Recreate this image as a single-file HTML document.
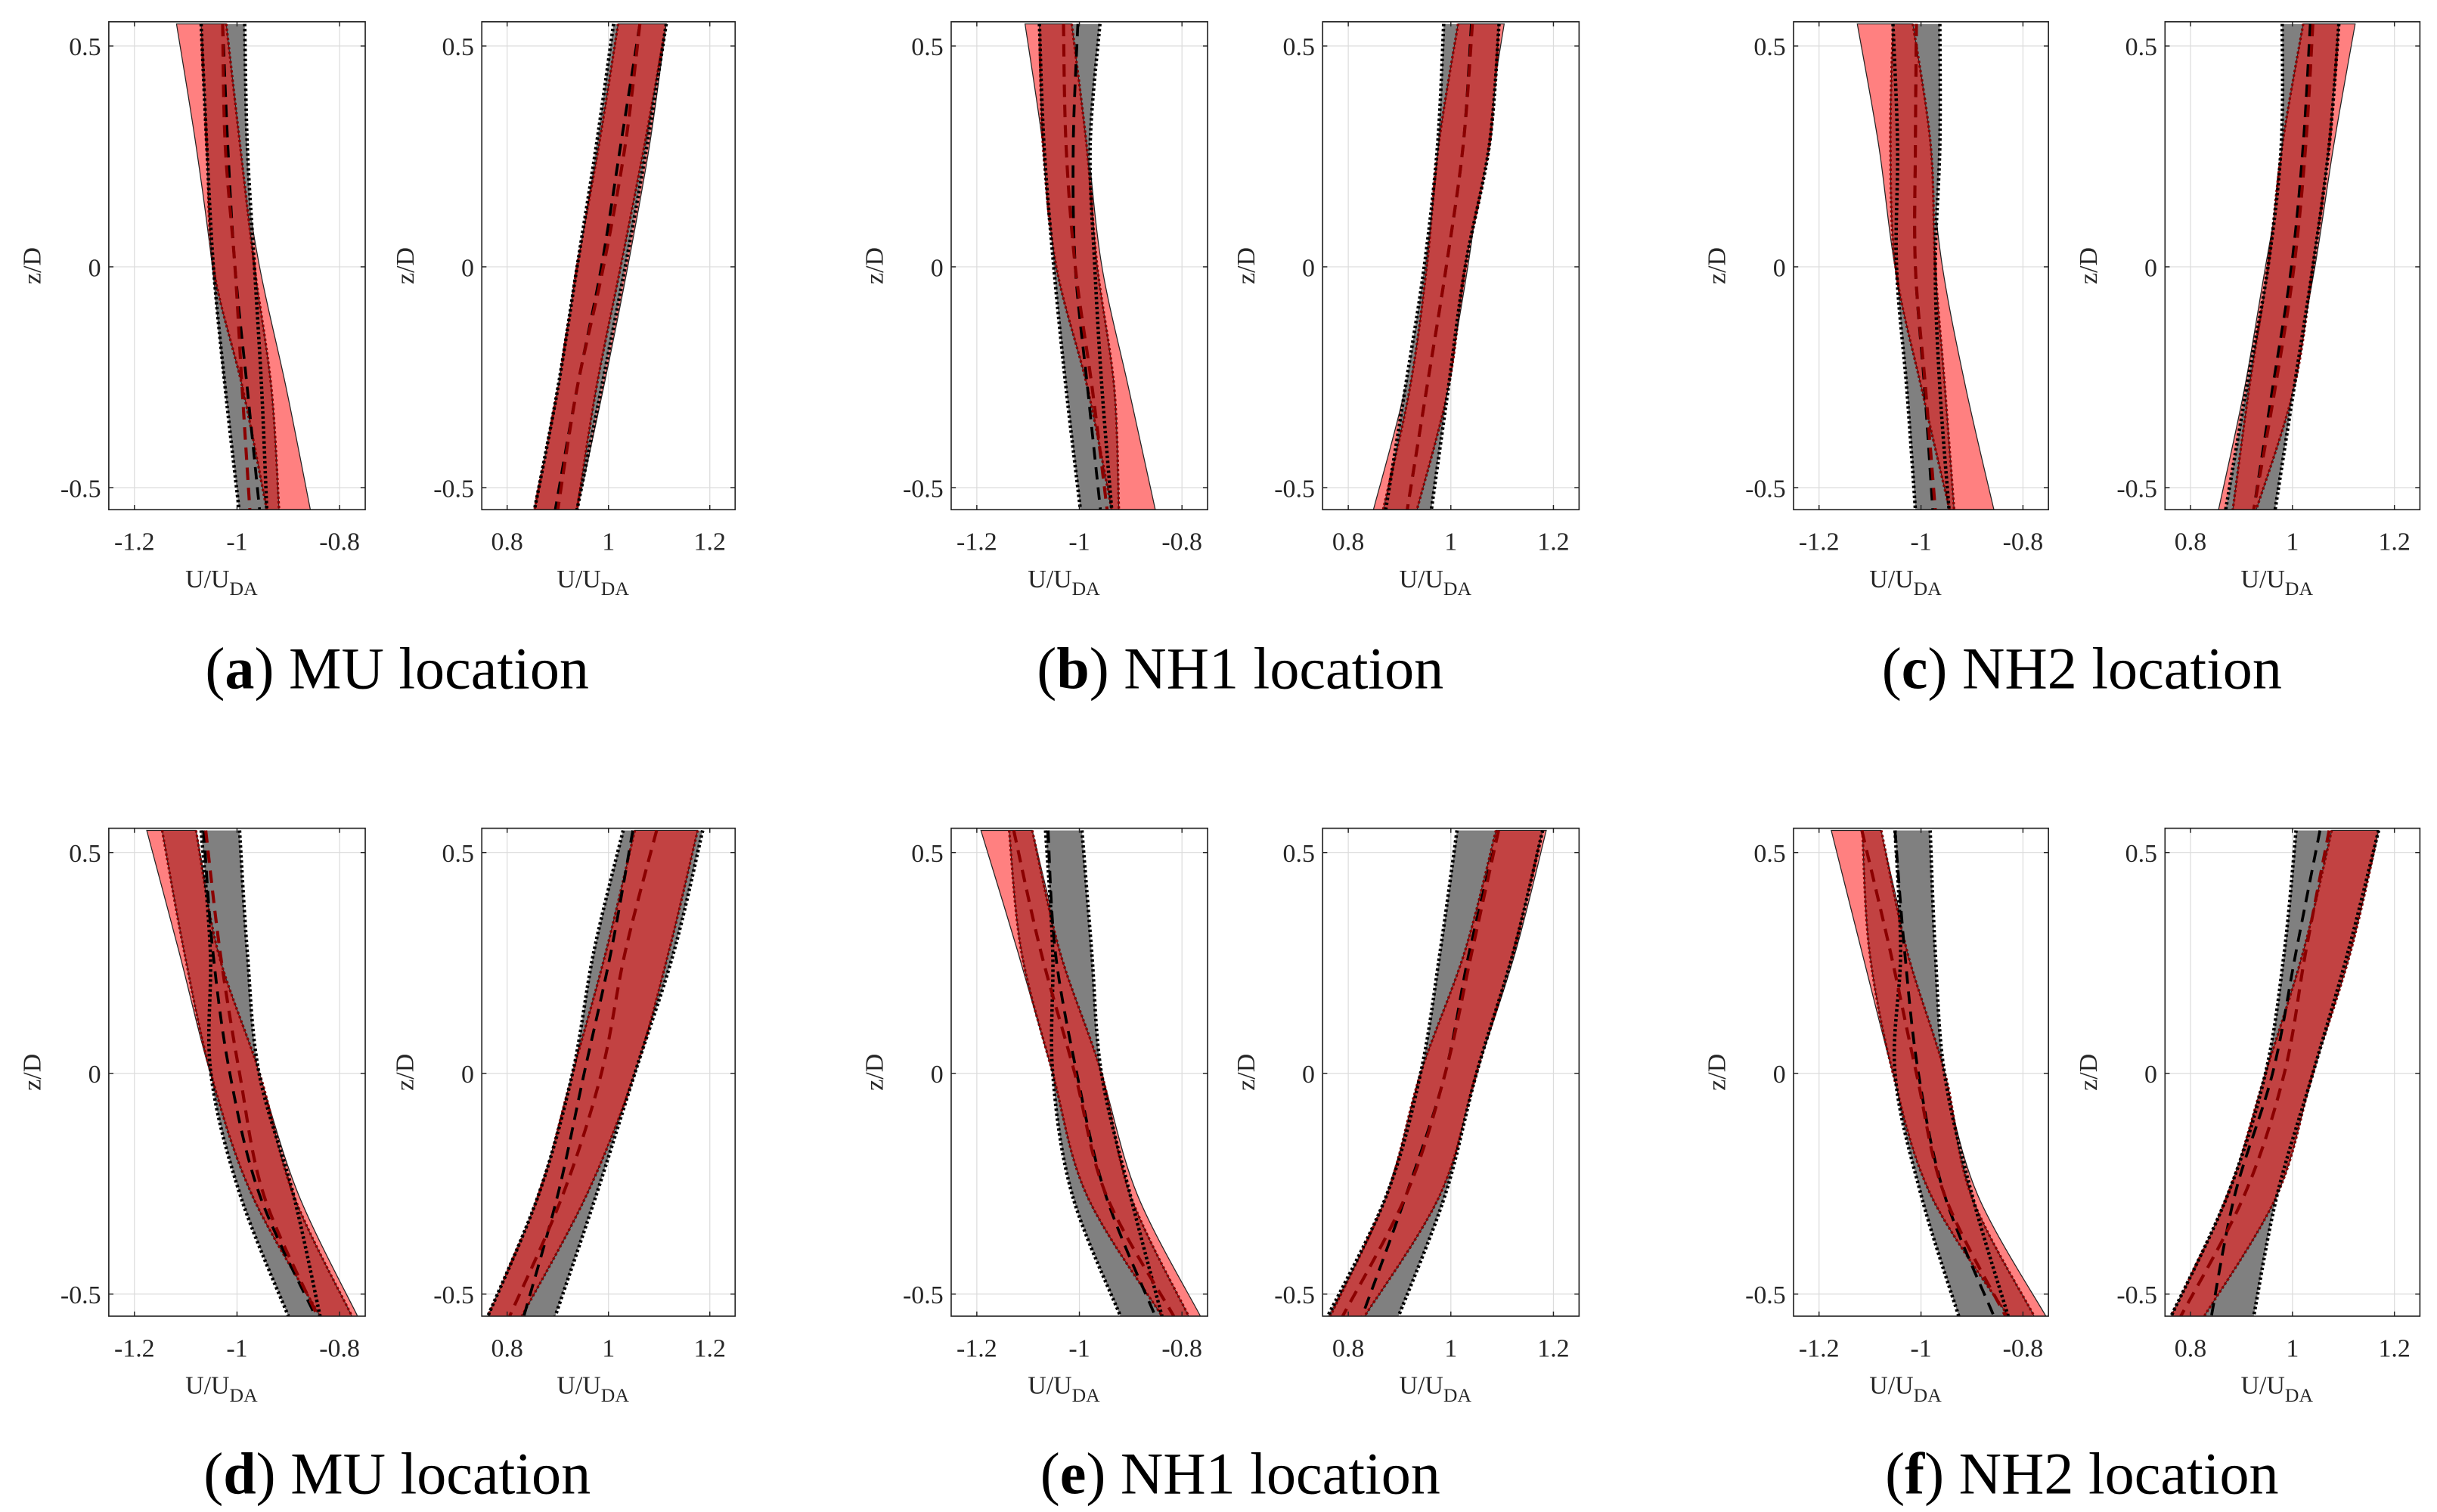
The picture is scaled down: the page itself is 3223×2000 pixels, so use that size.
<!DOCTYPE html>
<html><head><meta charset="utf-8"><style>
html,body{margin:0;padding:0;background:#fff;}
svg{display:block;}
</style></head><body>
<svg id="fig" width="3223" height="2000" viewBox="0 0 1568 973.02" preserveAspectRatio="none" xmlns="http://www.w3.org/2000/svg" font-family="'Liberation Serif', serif"></svg>
<script>
// z/D sample levels (top to bottom)
const zLevels = [0.55, 0.275, 0, -0.275, -0.55];
const xTicksNeg = [-1.2, -1, -0.8];
const xTickLabelsNeg = ['-1.2', '-1', '-0.8'];
const xTicksPos = [0.8, 1, 1.2];
const xTickLabelsPos = ['0.8', '1', '1.2'];
const yTicks = [0.5, 0, -0.5];
const yTickLabels = ['0.5', '0', '-0.5'];
const captionLetters = ['a', 'b', 'c', 'd', 'e', 'f'];
const captionNames = ['MU location', 'NH1 location', 'NH2 location', 'MU location', 'NH1 location', 'NH2 location'];

// (a) MU
const aL_grayLo = [-1.07, -1.059, -1.046, -1.023, -0.996];
const aL_grayHi = [-0.985, -0.98, -0.966, -0.952, -0.942];
const aL_grayMean = [-1.028, -1.018, -1.004, -0.98, -0.956];
const aL_redLo = [-1.118, -1.08, -1.048, -1.023, -0.99];
const aL_redHi = [-1.021, -0.994, -0.956, -0.904, -0.857];
const aL_darkLo = [-1.07, -1.059, -1.046, -0.989, -0.942];
const aL_darkHi = [-1.021, -0.994, -0.966, -0.933, -0.918];
const aL_redMean = [-1.028, -1.023, -1.004, -0.99, -0.975];
const aR_grayLo = [1.01, 0.976, 0.938, 0.9, 0.854];
const aR_grayHi = [1.114, 1.076, 1.033, 0.986, 0.938];
const aR_grayMean = [1.062, 1.024, 0.986, 0.938, 0.895];
const aR_redLo = [1.019, 0.981, 0.938, 0.9, 0.854];
const aR_redHi = [1.114, 1.081, 1.038, 0.99, 0.938];
const aR_darkLo = [1.019, 0.981, 0.938, 0.9, 0.854];
const aR_darkHi = [1.114, 1.071, 1.024, 0.976, 0.938];
const aR_redMean = [1.062, 1.033, 0.99, 0.938, 0.9];
// (b) NH1
const bL_grayLo = [-1.078, -1.069, -1.05, -1.026, -0.998];
const bL_grayHi = [-0.96, -0.979, -0.97, -0.956, -0.937];
const bL_grayMean = [-1.003, -1.012, -1.008, -0.984, -0.959];
const bL_redLo = [-1.106, -1.071, -1.045, -0.998, -0.951];
const bL_redHi = [-1.015, -0.984, -0.956, -0.904, -0.852];
const bL_darkLo = [-1.078, -1.071, -1.045, -0.984, -0.937];
const bL_darkHi = [-1.015, -0.986, -0.965, -0.932, -0.923];
const bL_redMean = [-1.031, -1.026, -1.008, -0.975, -0.946];
const bR_grayLo = [0.986, 0.974, 0.948, 0.911, 0.873];
const bR_grayHi = [1.094, 1.075, 1.028, 0.995, 0.962];
const bR_grayMean = [1.04, 1.024, 0.991, 0.953, 0.915];
const bR_redLo = [1.014, 0.976, 0.953, 0.911, 0.849];
const bR_redHi = [1.104, 1.066, 1.033, 0.991, 0.934];
const bR_darkLo = [1.014, 0.976, 0.953, 0.92, 0.868];
const bR_darkHi = [1.094, 1.075, 1.028, 0.995, 0.934];
const bR_redMean = [1.042, 1.024, 0.991, 0.953, 0.915];
// (c) NH2
const cL_grayLo = [-1.055, -1.046, -1.048, -1.028, -1.011];
const cL_grayHi = [-0.963, -0.963, -0.972, -0.963, -0.945];
const cL_grayMean = [-1.009, -1.011, -1.011, -0.993, -0.977];
const cL_redLo = [-1.125, -1.083, -1.051, -1.0, -0.945];
const cL_redHi = [-1.017, -0.986, -0.958, -0.912, -0.857];
const cL_darkLo = [-1.055, -1.06, -1.05, -0.999, -0.944];
const cL_darkHi = [-1.016, -0.981, -0.972, -0.953, -0.935];
const cL_redMean = [-1.009, -1.011, -1.011, -0.991, -0.972];
const cR_grayLo = [0.98, 0.978, 0.952, 0.91, 0.869];
const cR_grayHi = [1.091, 1.072, 1.04, 1.003, 0.966];
const cR_grayMean = [1.035, 1.021, 0.998, 0.961, 0.924];
const cR_redLo = [1.021, 0.989, 0.947, 0.906, 0.855];
const cR_redHi = [1.123, 1.081, 1.044, 0.998, 0.938];
const cR_darkLo = [1.021, 0.98, 0.952, 0.915, 0.883];
const cR_darkHi = [1.091, 1.072, 1.04, 1.003, 0.929];
const cR_redMean = [1.04, 1.026, 1.003, 0.966, 0.924];
// (d) MU
const dL_grayLo = [-1.07, -1.052, -1.051, -0.994, -0.9];
const dL_grayHi = [-0.995, -0.98, -0.957, -0.89, -0.838];
const dL_grayMean = [-1.065, -1.047, -1.014, -0.956, -0.847];
const dL_redLo = [-1.176, -1.113, -1.052, -0.972, -0.838];
const dL_redHi = [-1.08, -1.033, -0.957, -0.88, -0.765];
const dL_darkLo = [-1.146, -1.103, -1.051, -0.971, -0.838];
const dL_darkHi = [-1.08, -1.037, -0.956, -0.89, -0.776];
const dL_redMean = [-1.061, -1.033, -0.995, -0.948, -0.843];
const dR_grayLo = [1.029, 0.971, 0.929, 0.862, 0.762];
const dR_grayHi = [1.186, 1.129, 1.052, 0.976, 0.895];
const dR_grayMean = [1.048, 1.005, 0.952, 0.9, 0.833];
const dR_redLo = [1.052, 0.995, 0.929, 0.862, 0.762];
const dR_redHi = [1.176, 1.119, 1.052, 0.957, 0.829];
const dR_darkLo = [1.052, 0.995, 0.929, 0.862, 0.762];
const dR_darkHi = [1.176, 1.119, 1.052, 0.957, 0.829];
const dR_redMean = [1.095, 1.033, 0.986, 0.91, 0.805];
// (e) NH1
const eL_grayLo = [-1.066, -1.052, -1.052, -1.014, -0.92];
const eL_grayHi = [-0.995, -0.976, -0.957, -0.901, -0.839];
const eL_grayMean = [-1.061, -1.047, -1.005, -0.949, -0.852];
const eL_redLo = [-1.192, -1.12, -1.052, -0.986, -0.839];
const eL_redHi = [-1.092, -1.033, -0.957, -0.887, -0.764];
const eL_darkLo = [-1.137, -1.113, -1.052, -0.986, -0.839];
const eL_darkHi = [-1.092, -1.038, -0.957, -0.901, -0.787];
const eL_redMean = [-1.128, -1.075, -1.009, -0.948, -0.816];
const eR_grayLo = [1.012, 0.979, 0.941, 0.875, 0.76];
const eR_grayHi = [1.179, 1.122, 1.05, 0.989, 0.898];
const eR_grayMean = [1.093, 1.036, 0.989, 0.913, 0.827];
const eR_redLo = [1.088, 1.027, 0.941, 0.875, 0.765];
const eR_redHi = [1.186, 1.126, 1.05, 0.979, 0.832];
const eR_darkLo = [1.088, 1.027, 0.941, 0.875, 0.765];
const eR_darkHi = [1.179, 1.122, 1.05, 0.979, 0.832];
const eR_redMean = [1.093, 1.041, 0.989, 0.913, 0.789];
// (f) NH2
const fL_grayLo = [-1.051, -1.04, -1.051, -1.0, -0.926];
const fL_grayHi = [-0.982, -0.972, -0.954, -0.9, -0.829];
const fL_grayMean = [-1.051, -1.032, -1.005, -0.954, -0.857];
const fL_redLo = [-1.176, -1.116, -1.055, -0.986, -0.829];
const fL_redHi = [-1.079, -1.023, -0.958, -0.889, -0.755];
const fL_darkLo = [-1.115, -1.101, -1.055, -0.981, -0.829];
const fL_darkHi = [-1.078, -1.027, -0.953, -0.902, -0.778];
const fL_redMean = [-1.116, -1.06, -1.009, -0.954, -0.834];
const fR_grayLo = [1.007, 0.984, 0.947, 0.873, 0.762];
const fR_grayHi = [1.169, 1.109, 1.04, 0.97, 0.924];
const fR_grayMean = [1.054, 1.007, 0.961, 0.887, 0.841];
const fR_redLo = [1.077, 1.021, 0.947, 0.873, 0.762];
const fR_redHi = [1.169, 1.114, 1.04, 0.97, 0.827];
const fR_darkLo = [1.077, 1.021, 0.947, 0.873, 0.762];
const fR_darkHi = [1.169, 1.114, 1.04, 0.97, 0.827];
const fR_redMean = [1.072, 1.026, 0.984, 0.906, 0.781];

const NS = 'http://www.w3.org/2000/svg';
const svg = document.getElementById('fig');
function mk(tag, attrs, parent) {
  const e = document.createElementNS(NS, tag);
  for (const k in attrs) e.setAttribute(k, attrs[k]);
  (parent || svg).appendChild(e);
  return e;
}
const colX = [[70, 235, 310, 473], [612, 777, 851, 1016], [1154, 1318, 1393, 1557]];
const rowY = [[14, 328], [533, 847]];
const series = {
  aL: [aL_grayLo, aL_grayHi, aL_grayMean, aL_redLo, aL_redHi, aL_redMean, aL_darkLo, aL_darkHi],
  aR: [aR_grayLo, aR_grayHi, aR_grayMean, aR_redLo, aR_redHi, aR_redMean, aR_darkLo, aR_darkHi],
  bL: [bL_grayLo, bL_grayHi, bL_grayMean, bL_redLo, bL_redHi, bL_redMean, bL_darkLo, bL_darkHi],
  bR: [bR_grayLo, bR_grayHi, bR_grayMean, bR_redLo, bR_redHi, bR_redMean, bR_darkLo, bR_darkHi],
  cL: [cL_grayLo, cL_grayHi, cL_grayMean, cL_redLo, cL_redHi, cL_redMean, cL_darkLo, cL_darkHi],
  cR: [cR_grayLo, cR_grayHi, cR_grayMean, cR_redLo, cR_redHi, cR_redMean, cR_darkLo, cR_darkHi],
  dL: [dL_grayLo, dL_grayHi, dL_grayMean, dL_redLo, dL_redHi, dL_redMean, dL_darkLo, dL_darkHi],
  dR: [dR_grayLo, dR_grayHi, dR_grayMean, dR_redLo, dR_redHi, dR_redMean, dR_darkLo, dR_darkHi],
  eL: [eL_grayLo, eL_grayHi, eL_grayMean, eL_redLo, eL_redHi, eL_redMean, eL_darkLo, eL_darkHi],
  eR: [eR_grayLo, eR_grayHi, eR_grayMean, eR_redLo, eR_redHi, eR_redMean, eR_darkLo, eR_darkHi],
  fL: [fL_grayLo, fL_grayHi, fL_grayMean, fL_redLo, fL_redHi, fL_redMean, fL_darkLo, fL_darkHi],
  fR: [fR_grayLo, fR_grayHi, fR_grayMean, fR_redLo, fR_redHi, fR_redMean, fR_darkLo, fR_darkHi]
};
const YMAX = 0.555, YMIN = -0.55;
let clipId = 0;

function smooth(p, move) {
  let d = (move ? 'M' : 'L') + p[0][0].toFixed(2) + ',' + p[0][1].toFixed(2);
  for (let i = 0; i < p.length - 1; i++) {
    const p0 = p[Math.max(0, i - 1)], p1 = p[i], p2 = p[i + 1], p3 = p[Math.min(p.length - 1, i + 2)];
    const c1 = [p1[0] + (p2[0] - p0[0]) / 6, p1[1] + (p2[1] - p0[1]) / 6];
    const c2 = [p2[0] - (p3[0] - p1[0]) / 6, p2[1] - (p3[1] - p1[1]) / 6];
    d += 'C' + c1[0].toFixed(2) + ',' + c1[1].toFixed(2) + ' ' + c2[0].toFixed(2) + ',' + c2[1].toFixed(2) + ' ' + p2[0].toFixed(2) + ',' + p2[1].toFixed(2);
  }
  return d;
}

function drawAxes(key, x0, x1, y0, y1, neg) {
  const xmin = neg ? -1.25 : 0.75, xmax = neg ? -0.75 : 1.25;
  const sx = v => x0 + (v - xmin) / (xmax - xmin) * (x1 - x0);
  const sy = z => y0 + (YMAX - z) / (YMAX - YMIN) * (y1 - y0);
  const g = mk('g', {});
  
  
  const cid = 'clip' + (clipId++);
  const cp = mk('clipPath', {id: cid}, g);
  mk('rect', {x: x0, y: y0, width: x1 - x0, height: y1 - y0}, cp);
  const xt = neg ? xTicksNeg : xTicksPos;
  const xl = neg ? xTickLabelsNeg : xTickLabelsPos;
  xt.forEach(t => {
    const l = mk('line', {x1: sx(t), x2: sx(t), y1: y0, y2: y1, stroke: '#dcdcdc', 'stroke-width': 0.6}, g);
    
    
  });
  yTicks.forEach(t => {
    const l = mk('line', {x1: x0, x2: x1, y1: sy(t), y2: sy(t), stroke: '#dcdcdc', 'stroke-width': 0.6}, g);
    
    
  });
  const s = series[key];
  const plot = mk('g', {'clip-path': 'url(#' + cid + ')'}, g);
  const pts = arr => arr.map((v, i) => [sx(v), sy(zLevels[i])]);
  const line = arr => smooth(pts(arr), true);
  const band = (lo, hi) => smooth(pts(lo), true) + smooth(pts(hi).reverse(), false) + 'Z';
  const rb = mk('path', {d: band(s[3], s[4]), fill: '#ff8080', stroke: '#222', 'stroke-width': 0.6}, plot);
  
  
  const gb = mk('path', {d: band(s[0], s[1]), fill: '#808080'}, plot);
  
  
  const db = mk('path', {d: band(s[6], s[7]), fill: '#c24242', stroke: '#222', 'stroke-width': 0.5}, plot);
  
  
  [s[6], s[7]].forEach(arr => {
    const p = mk('path', {d: line(arr), fill: 'none', stroke: '#8b0000', 'stroke-width': 1.6, 'stroke-dasharray': '1.5 1.5'}, plot);
    
    
  });
  [s[0], s[1]].forEach(arr => {
    const p = mk('path', {d: line(arr), fill: 'none', stroke: '#000', 'stroke-width': 2.2, 'stroke-dasharray': '1.6 1.6'}, plot);
    
    
  });
  const bm = mk('path', {d: line(s[2]), fill: 'none', stroke: '#000', 'stroke-width': 1.8, 'stroke-dasharray': '8 5'}, plot);
  
  
  const rm = mk('path', {d: line(s[5]), fill: 'none', stroke: '#8b0000', 'stroke-width': 2, 'stroke-dasharray': '8 5'}, plot);
  
  
  const box = mk('rect', {x: x0, y: y0, width: x1 - x0, height: y1 - y0, fill: 'none', stroke: '#222', 'stroke-width': 0.8}, g);
  
  
  xt.forEach((t, i) => {
    mk('line', {x1: sx(t), x2: sx(t), y1: y1, y2: y1 - 3, stroke: '#222', 'stroke-width': 0.7}, g);
    mk('line', {x1: sx(t), x2: sx(t), y1: y0, y2: y0 + 3, stroke: '#222', 'stroke-width': 0.7}, g);
    const tx = mk('text', {x: sx(t), y: y1 + 26, 'font-size': 16.5, 'text-anchor': 'middle', fill: '#262626'}, g);
    
    
    tx.textContent = xl[i];
  });
  yTicks.forEach((t, i) => {
    mk('line', {x1: x0, x2: x0 + 3, y1: sy(t), y2: sy(t), stroke: '#222', 'stroke-width': 0.7}, g);
    mk('line', {x1: x1, x2: x1 - 3, y1: sy(t), y2: sy(t), stroke: '#222', 'stroke-width': 0.7}, g);
    const ty = mk('text', {x: x0 - 5, y: sy(t) + 6, 'font-size': 16.5, 'text-anchor': 'end', fill: '#262626'}, g);
    
    
    ty.textContent = yTickLabels[i];
  });
  const xlab = mk('text', {x: (x0 + x1) / 2 - 10, y: y1 + 50, 'font-size': 16.5, 'text-anchor': 'middle', fill: '#262626'}, g);
  
  
  xlab.textContent = 'U/U';
  const sub = mk('tspan', {'font-size': 12.5, dy: 5}, xlab);
  sub.textContent = 'DA';
  const ycx = x0 - 44, ycy = (y0 + y1) / 2;
  const ylab = mk('text', {x: ycx, y: ycy, 'font-size': 16.5, 'text-anchor': 'middle', fill: '#262626', transform: 'rotate(-90 ' + ycx + ' ' + ycy + ')'}, g);
  
  
  ylab.textContent = 'z/D';
}

const keysRow = [['aL', 'aR', 'bL', 'bR', 'cL', 'cR'], ['dL', 'dR', 'eL', 'eR', 'fL', 'fR']];
for (let r = 0; r < 2; r++) {
  for (let c = 0; c < 3; c++) {
    const [l0, l1, r0, r1] = colX[c];
    const [y0, y1] = rowY[r];
    drawAxes(keysRow[r][c * 2], l0, l1, y0, y1, true);
    drawAxes(keysRow[r][c * 2 + 1], r0, r1, y0, y1, false);
    const idx = r * 3 + c;
    const cap = mk('text', {x: (l0 + r1) / 2 - 16, y: r === 0 ? 443 : 961, 'font-size': 38, 'text-anchor': 'middle', fill: '#000'});
    
    
    const t1 = mk('tspan', {}, cap); t1.textContent = '(';
    const t2 = mk('tspan', {'font-weight': 'bold'}, cap); t2.textContent = captionLetters[idx];
    const t3 = mk('tspan', {}, cap); t3.textContent = ') ' + captionNames[idx];
  }
}
</script>
</body></html>
